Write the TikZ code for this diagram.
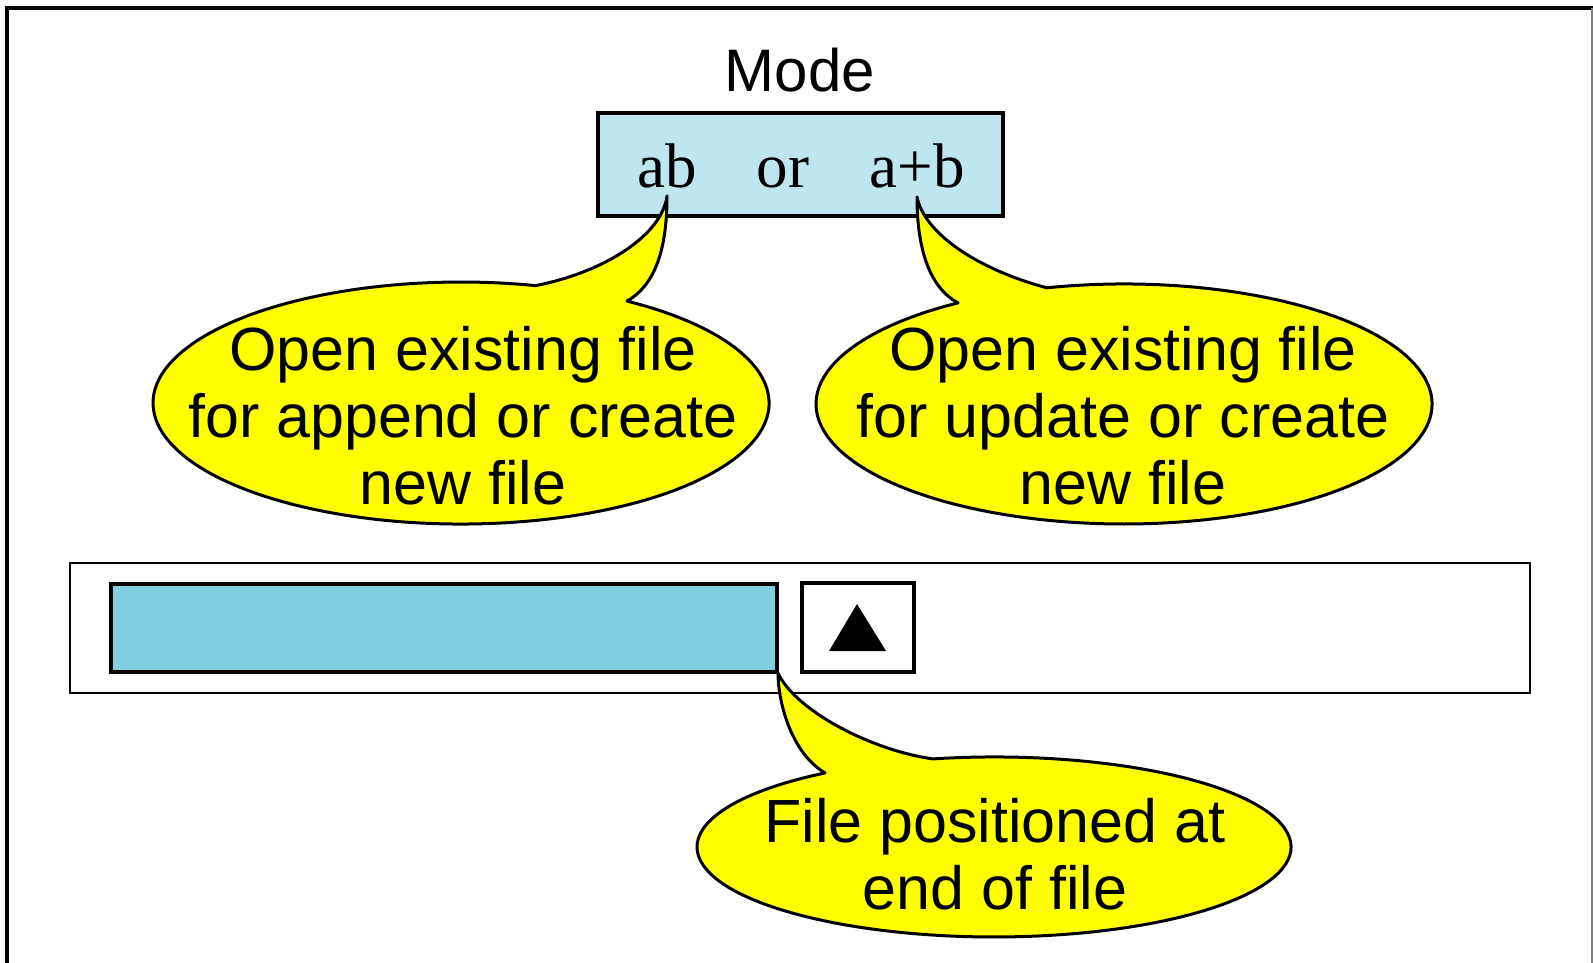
\documentclass[tikz,border=0pt]{standalone}
\usepackage{fontspec}
\setmainfont{Liberation Sans}
\newfontfamily\serifrm{Liberation Serif}
\definecolor{modeblue}{RGB}{190,230,239}
\definecolor{barblue}{RGB}{127,207,224}
\definecolor{callyellow}{RGB}{255,255,0}
\begin{document}
\begin{tikzpicture}[x=1pt,y=-1pt,
  box/.style={draw=black, line width=3.2pt, inner sep=0pt},
  callout/.style={draw=black, fill=callyellow, line width=3pt, line join=round},
  calltext/.style={inner sep=0pt, align=center, font=\fontsize{61}{67}\selectfont},
  modetext/.style={inner sep=0pt, anchor=base, font=\serifrm\fontsize{63}{72}\selectfont},
]
\useasboundingbox (0,0) rectangle (1593,963);
% outer frame
\draw[line width=4pt] (7,980) -- (7,8) -- (1600,8);
\draw[gray, line width=2pt] (1592,8) -- (1592,980);

% mode box
\node[inner sep=0pt, anchor=base, font=\fontsize{60}{72}\selectfont] (mode) at (800,92) {Mode};
\node[box, fill=modeblue, minimum width=405pt, minimum height=103pt] (modebox) at (800.5,164.5) {};
\node[modetext] (ab) at (667,187) {ab};
\node[modetext] (or) at (783,187) {or};
\node[modetext] (apb) at (917,187) {a+b};

% file band
\node[box, line width=2.8pt, minimum width=1460pt, minimum height=130pt] (band) at (800,628) {};
\node[box, fill=barblue, minimum width=666pt, minimum height=88pt] (bar) at (444,628) {};
\node[box, minimum width=112pt, minimum height=89pt] (marker) at (858,627.5) {};
\fill (829,651) -- (857,604) -- (886,651) -- cycle;

% callouts
\draw[callout] (627,301.1) arc[start angle=-57.4, end angle=284, x radius=308, y radius=121]
  .. controls (605,272) and (662,235) .. (667,196)
  .. controls (667,250) and (655,285) .. (627,301.1) -- cycle;
\draw[callout] (1046.9,287.8) arc[start angle=255.5, end angle=597.4, x radius=308, y radius=120]
  .. controls (930,288) and (917,250) .. (917,197)
  .. controls (925,235) and (980,270) .. (1046.9,287.8) -- cycle;
\draw[callout] (932.8,758.9) arc[start angle=258.1, end angle=595.3, x radius=297, y radius=90]
  .. controls (790,752) and (778,700) .. (778,673)
  .. controls (795,710) and (870,750) .. (932.8,758.9) -- cycle;

\node[calltext] (t1) at (463,416) {Open existing file\\for append or create\\new file};
\node[calltext] (t2) at (1123,416) {Open existing file\\for update or create\\new file};
\node[calltext] (t3) at (995,854) {File positioned at\\end of file};
\end{tikzpicture}
\end{document}
